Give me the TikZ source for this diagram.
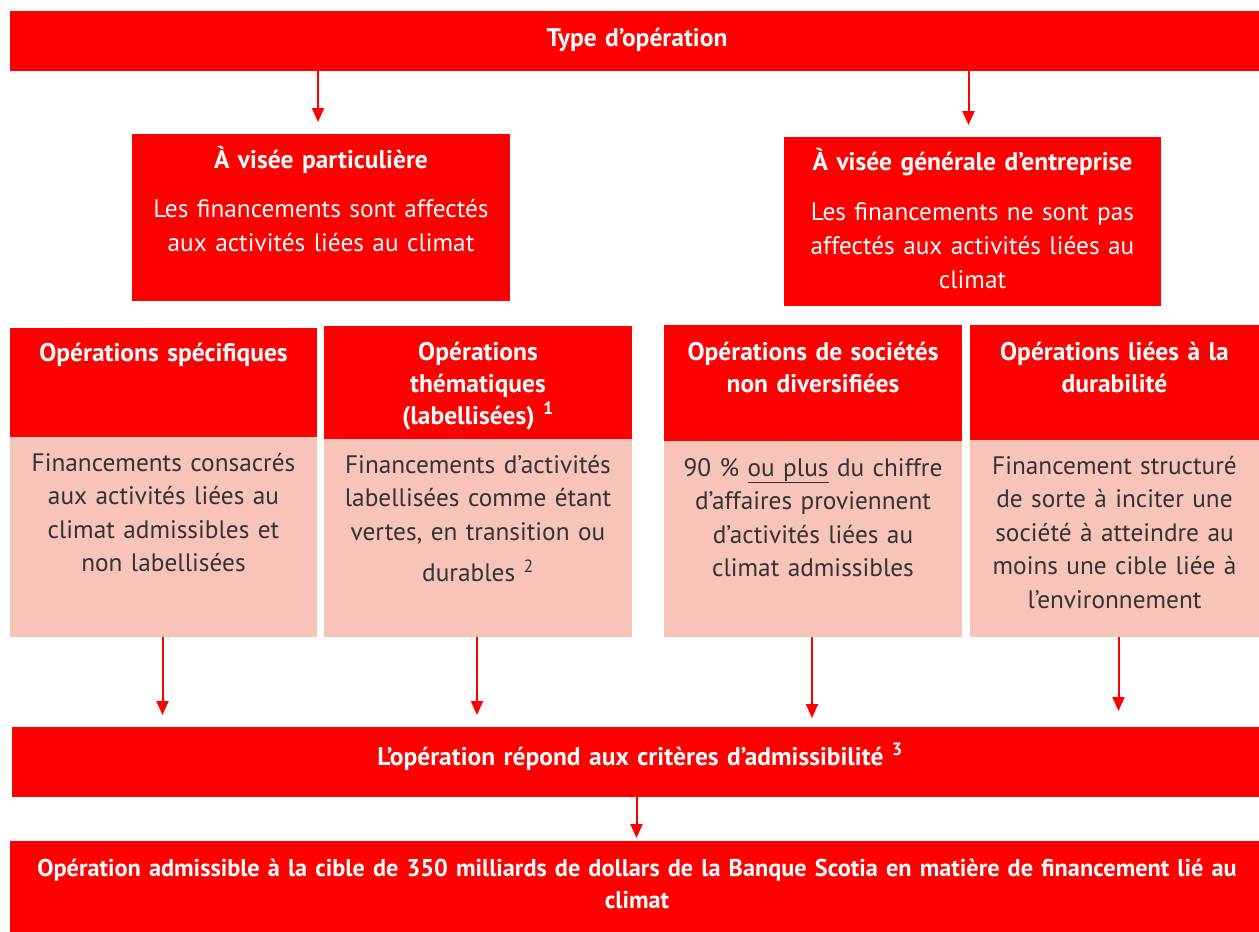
\documentclass[tikz,border=0pt]{standalone}
\usepackage{fontspec}
\setmainfont{PT Sans}[WordSpace=0.72]
\usetikzlibrary{arrows.meta}
\definecolor{sred}{RGB}{255,0,0}
\definecolor{spink}{RGB}{248,196,185}
\definecolor{stext}{RGB}{51,51,51}
\newcommand{\hdrfont}{\bfseries\fontsize{25.5}{32}\selectfont}
\newcommand{\finfont}{\bfseries\fontsize{24.3}{32}\selectfont}
\newcommand{\bdyfont}[1]{\fontsize{25.3}{#1}\selectfont}
\begin{document}
\begin{tikzpicture}[x=1pt,y=-1pt,
  redbox/.style={fill=sred,draw=none,inner sep=0pt,outer sep=0pt},
  pinkbox/.style={fill=spink,draw=none,inner sep=0pt,outer sep=0pt},
  hdrtext/.style={text=white,font=\hdrfont,align=center,anchor=base,inner sep=0pt},
  bodytext/.style={text=stext,font=\bdyfont{33.5},align=center,anchor=base,inner sep=0pt},
  wtext/.style={text=white,font=\bdyfont{34},align=center,anchor=base,inner sep=0pt},
  arr/.style={draw=sred,line width=2pt,-{Triangle[length=14pt,width=12pt]}}
]
\useasboundingbox (0,0) rectangle (1259,932);

% boxes
\node[redbox,minimum width=1249pt,minimum height=60pt] (top) at (634.5,41) {};
\node[redbox,minimum width=378pt,minimum height=167pt] (vp) at (321,217.5) {};
\node[redbox,minimum width=377pt,minimum height=169pt] (vg) at (972.5,221.5) {};
\node[redbox,minimum width=307pt,minimum height=109pt] (c1h) at (163.5,382.5) {};
\node[pinkbox,minimum width=307pt,minimum height=200pt] (c1b) at (163.5,537) {};
\node[redbox,minimum width=308pt,minimum height=113pt] (c2h) at (478,382.5) {};
\node[pinkbox,minimum width=308pt,minimum height=198pt] (c2b) at (478,538) {};
\node[redbox,minimum width=298pt,minimum height=116pt] (c3h) at (813,383) {};
\node[pinkbox,minimum width=298pt,minimum height=196pt] (c3b) at (813,539) {};
\node[redbox,minimum width=289pt,minimum height=115pt] (c4h) at (1114.5,382.5) {};
\node[pinkbox,minimum width=289pt,minimum height=197pt] (c4b) at (1114.5,538.5) {};
\node[redbox,minimum width=1247pt,minimum height=70pt] (elig) at (635.5,762) {};
\node[redbox,minimum width=1249pt,minimum height=91pt] (fin) at (634.5,886.5) {};

% texts
\node[hdrtext,text width=1240pt] (ttop) at (637,46) {Type d’opération};
\node[hdrtext,text width=376pt] (tvp) at (321,168) {À visée particulière};
\node[wtext,text width=376pt] (tvpb) at (321,217) {Les financements sont affectés\\aux activités liées au climat};
\node[hdrtext,text width=376pt] (tvg) at (972.5,170) {À visée générale d’entreprise};
\node[wtext,text width=376pt] (tvgb) at (972.5,220) {Les financements ne sont pas\\affectés aux activités liées au\\climat};
\node[hdrtext,text width=306pt] (tc1h) at (163.5,361) {Opérations spécifiques};
\node[bodytext,text width=306pt] (tc1b) at (163.5,471) {Financements consacrés\\aux activités liées au\\climat admissibles et\\non labellisées};
\node[hdrtext,text width=306pt] (tc2h) at (478,360) {Opérations\\thématiques\\(labellisées) \textsuperscript{1}};
\node[bodytext,text width=306pt] (tc2b) at (478,473) {Financements d’activités\\labellisées comme étant\\vertes, en transition ou\\[8pt]durables \textsuperscript{2}};
\node[hdrtext,text width=296pt] (tc3h) at (813,360) {Opérations de sociétés\\non diversifiées};
\node[bodytext,text width=296pt] (tc3b) at (813,476) {90 \% \underline{ou plus} du chiffre\\d’affaires proviennent\\d’activités liées au\\climat admissibles};
\node[hdrtext,text width=288pt] (tc4h) at (1114.5,360) {Opérations liées à la\\durabilité};
\node[bodytext,text width=288pt] (tc4b) at (1114.5,474) {Financement structuré\\de sorte à inciter une\\société à atteindre au\\moins une cible liée à\\l’environnement};
\node[hdrtext,text width=1240pt] (telig) at (640,765) {L’opération répond aux critères d’admissibilité \textsuperscript{3}};
\node[hdrtext,font=\finfont,text width=1256pt] (tfin) at (637,876) {Opération admissible à la cible de 350 milliards de dollars de la Banque Scotia en matière de financement lié au\\climat};

% connectors
\draw[arr,shorten >=12pt] ([xshift=-3pt]top.south -| vp.north) -- ([xshift=-3pt]vp.north);
\draw[arr,shorten >=12pt] ([xshift=-4pt]top.south -| vg.north) -- ([xshift=-4pt]vg.north);
\draw[arr,shorten >=12pt] ([xshift=-1pt]c1b.south) -- ([xshift=-1pt]c1b.south |- elig.north);
\draw[arr,shorten >=12pt] ([xshift=-1pt]c2b.south) -- ([xshift=-1pt]c2b.south |- elig.north);
\draw[arr,shorten >=9pt] ([xshift=-1pt]c3b.south) -- ([xshift=-1pt]c3b.south |- elig.north);
\draw[arr,shorten >=16pt] ([xshift=4pt]c4b.south) -- ([xshift=4pt]c4b.south |- elig.north);
\draw[arr,shorten >=3pt] ([xshift=2pt]elig.south -| fin.north) -- ([xshift=2pt]fin.north);
\end{tikzpicture}
\end{document}
